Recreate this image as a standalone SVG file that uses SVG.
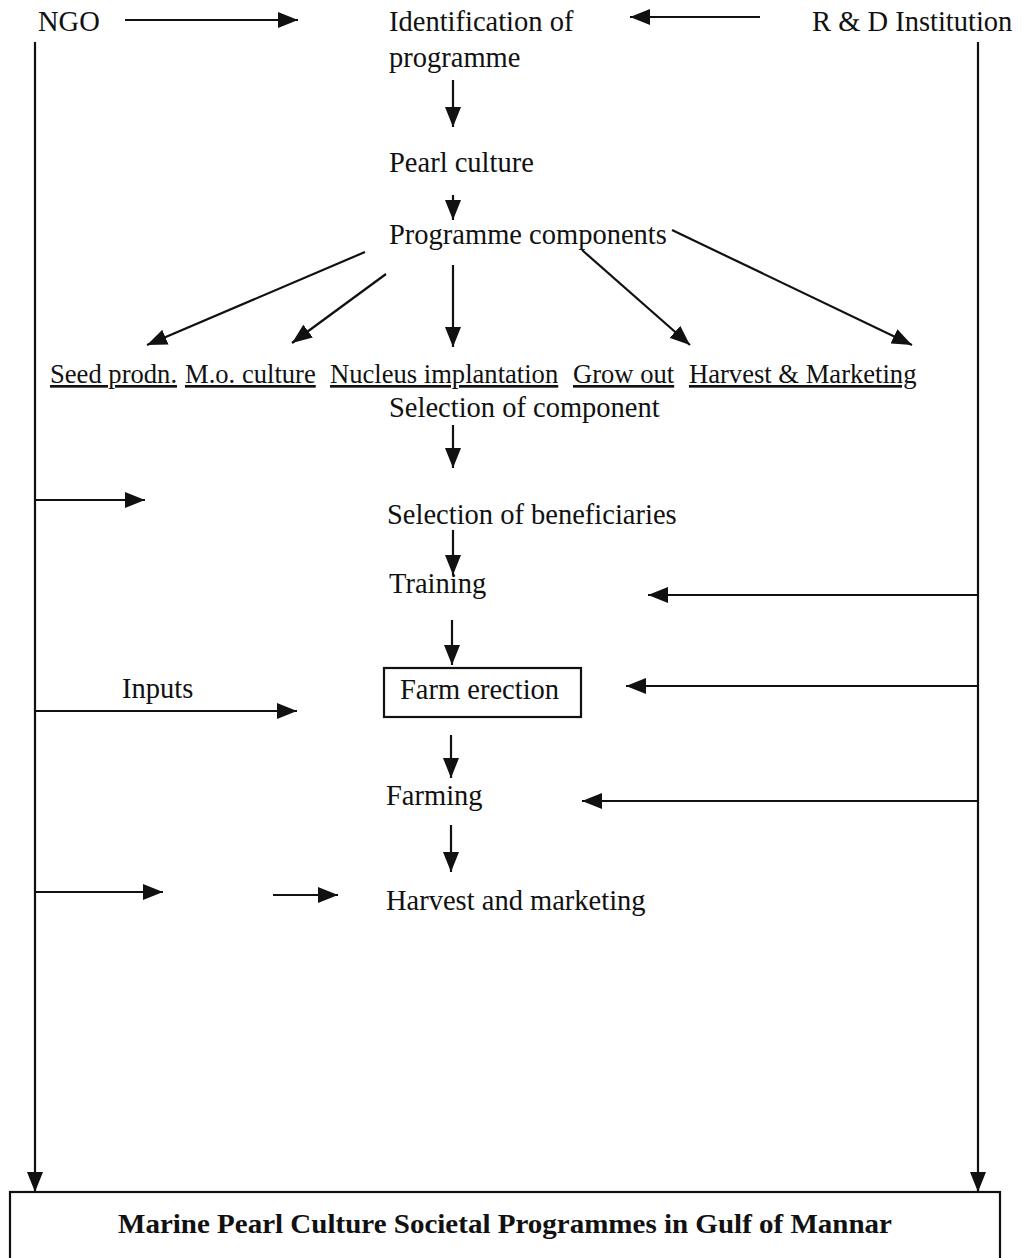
<svg xmlns="http://www.w3.org/2000/svg" width="1026" height="1258" viewBox="0 0 1026 1258">
<style>
text{font-family:"Liberation Serif","Times New Roman",serif;font-size:28.5px;fill:#111}
.u{text-decoration:underline;font-size:26.6px}
.c{stroke:#111;stroke-width:2.2;fill:none}
.b{stroke:#111;stroke-width:2.2;fill:#fff}
.t{font-weight:bold;font-size:28px}
</style>
<defs>
<marker id="ah" viewBox="0 0 20 16" markerWidth="20" markerHeight="16" refX="20" refY="8" orient="auto" markerUnits="userSpaceOnUse">
<path d="M0,0 L20,8 L0,16 z" fill="#111"/>
</marker>
</defs>
<rect width="1026" height="1258" fill="#fff"/>
<g id="connectors">
<line class="c" x1="125" y1="20" x2="298" y2="20" marker-end="url(#ah)"/>
<line class="c" x1="760" y1="17" x2="630" y2="17" marker-end="url(#ah)"/>
<line class="c" x1="35" y1="42" x2="35" y2="1192" marker-end="url(#ah)"/>
<line class="c" x1="978" y1="42" x2="978" y2="1192" marker-end="url(#ah)"/>
<line class="c" x1="453" y1="80" x2="453" y2="127" marker-end="url(#ah)"/>
<line class="c" x1="453" y1="195" x2="453" y2="220" marker-end="url(#ah)"/>
<line class="c" x1="365" y1="252" x2="147" y2="345" marker-end="url(#ah)"/>
<line class="c" x1="386" y1="274" x2="292" y2="343" marker-end="url(#ah)"/>
<line class="c" x1="453" y1="265" x2="453" y2="347" marker-end="url(#ah)"/>
<line class="c" x1="582" y1="250" x2="690" y2="345" marker-end="url(#ah)"/>
<line class="c" x1="672" y1="230" x2="912" y2="345" marker-end="url(#ah)"/>
<line class="c" x1="453" y1="425" x2="453" y2="468" marker-end="url(#ah)"/>
<line class="c" x1="35" y1="500" x2="145" y2="500" marker-end="url(#ah)"/>
<line class="c" x1="453" y1="530" x2="453" y2="575" marker-end="url(#ah)"/>
<line class="c" x1="978" y1="595" x2="648" y2="595" marker-end="url(#ah)"/>
<line class="c" x1="452" y1="620" x2="452" y2="665" marker-end="url(#ah)"/>
<line class="c" x1="978" y1="686" x2="626" y2="686" marker-end="url(#ah)"/>
<line class="c" x1="35" y1="711" x2="297" y2="711" marker-end="url(#ah)"/>
<line class="c" x1="451" y1="735" x2="451" y2="778" marker-end="url(#ah)"/>
<line class="c" x1="978" y1="801" x2="582" y2="801" marker-end="url(#ah)"/>
<line class="c" x1="451" y1="825" x2="451" y2="872" marker-end="url(#ah)"/>
<line class="c" x1="35" y1="892" x2="163" y2="892" marker-end="url(#ah)"/>
<line class="c" x1="273" y1="895" x2="338" y2="895" marker-end="url(#ah)"/>
</g>
<g id="ngo"><text x="38" y="31">NGO</text></g>
<g id="identification"><text x="389" y="31">Identification of</text><text x="389" y="67">programme</text></g>
<g id="rd"><text x="812" y="31">R &amp; D Institution</text></g>
<g id="pearl"><text x="389" y="172">Pearl culture</text></g>
<g id="components"><text x="389" y="244">Programme components</text></g>
<g id="seed"><text class="u" x="50" y="383">Seed prodn.</text></g>
<g id="mo"><text class="u" x="185" y="383">M.o. culture</text></g>
<g id="nucleus"><text class="u" x="330" y="383">Nucleus implantation</text></g>
<g id="growout"><text class="u" x="573" y="383">Grow out</text></g>
<g id="harvestm"><text class="u" x="689" y="383">Harvest &amp; Marketing</text></g>
<g id="selcomp"><text x="389" y="417">Selection of component</text></g>
<g id="selben"><text x="387" y="524">Selection of beneficiaries</text></g>
<g id="training"><text x="389" y="593">Training</text></g>
<g id="farm"><rect class="b" x="384" y="668" width="197" height="49"/><text x="400" y="699">Farm erection</text></g>
<g id="inputs"><text x="122" y="698">Inputs</text></g>
<g id="farming"><text x="386" y="805">Farming</text></g>
<g id="harvest"><text x="386" y="910">Harvest and marketing</text></g>
<g id="title"><rect class="b" x="10" y="1192" width="990" height="80"/><text class="t" x="118" y="1233" textLength="774" lengthAdjust="spacingAndGlyphs">Marine Pearl Culture Societal Programmes in Gulf of Mannar</text></g>
</svg>
